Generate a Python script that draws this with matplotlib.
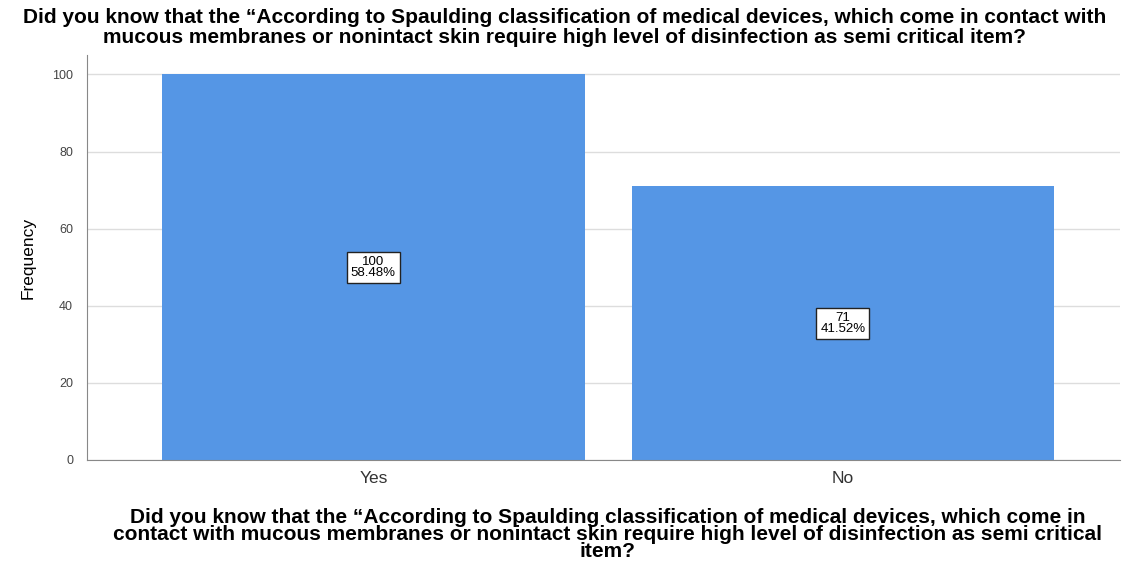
import matplotlib.pyplot as plt

categories = ['Yes', 'No']
counts = [100, 71]
percents = ['58.48%', '41.52%']

question = ("Did you know that the \u201cAccording to Spaulding classification of medical devices, "
            "which come in contact with\nmucous membranes or nonintact skin require high level of "
            "disinfection as semi critical item?")
xlab = ("Did you know that the \u201cAccording to Spaulding classification of medical devices, which come in\n"
        "contact with mucous membranes or nonintact skin require high level of disinfection as semi critical\n"
        "item?")

plt.rcParams['font.family'] = ['Liberation Sans', 'DejaVu Sans']

fig = plt.figure(figsize=(11.29, 5.63), dpi=100)
ax = fig.add_axes([0.077, 0.183, 0.915, 0.719])

x = range(len(categories))
ax.bar(x, counts, width=0.9, color='#5596E5', zorder=2)
for i, c in enumerate(counts):
    ax.text(i, c / 2, f'{c}\n{percents[i]}', ha='center', va='center', fontsize=9.5,
            linespacing=0.9, zorder=3,
            bbox=dict(boxstyle='square,pad=0.3', fc='white', ec='#222222', lw=1.0))

ax.set_xlim(-0.61, 1.59)
ax.set_ylim(0, 105)
ax.set_yticks([0, 20, 40, 60, 80, 100])
ax.set_xticks(list(x))
ax.set_xticklabels(categories, fontsize=12.5, color='#333333')
ax.tick_params(axis='y', labelsize=9, colors='#444444', length=0, pad=10)
ax.tick_params(axis='x', length=0, pad=8)
ax.grid(axis='y', color='#dddddd', lw=1, zorder=0)
for s in ['top', 'right']:
    ax.spines[s].set_visible(False)
ax.spines['left'].set_color('#888888')
ax.spines['bottom'].set_color('#888888')
ax.set_ylabel('Frequency', fontsize=12.5, labelpad=12)

fig.suptitle(question, fontsize=15, fontweight='bold', y=0.985, linespacing=1.05)
fig.text(0.538, 0.003, xlab, ha='center', va='bottom', fontsize=15, fontweight='bold',
         linespacing=0.88)

fig.savefig('out.png', dpi=100)
